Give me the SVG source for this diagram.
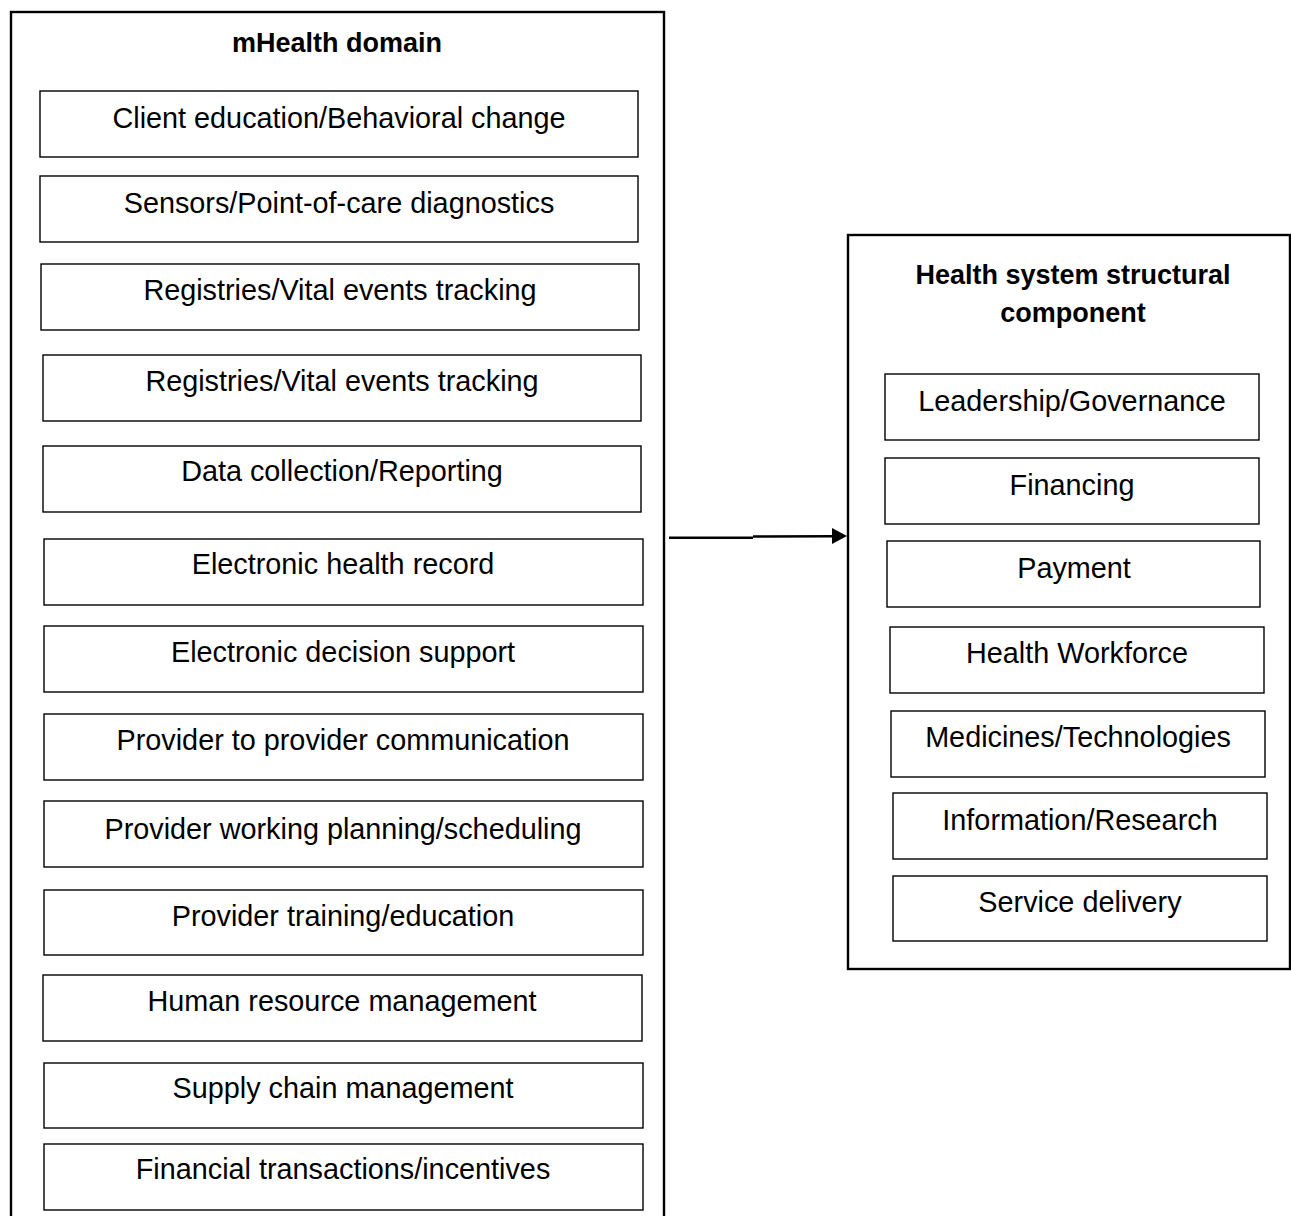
<svg xmlns="http://www.w3.org/2000/svg" width="1291" height="1216" viewBox="0 0 1291 1216">
<style>
.outer{fill:#fff;stroke:#000;stroke-width:2.4}
.box{fill:#fff;stroke:#000;stroke-width:1.4}
.t{font-family:"Liberation Sans",Arial,sans-serif;font-size:28.8px;fill:#000;text-anchor:middle}
.h{font-family:"Liberation Sans",Arial,sans-serif;font-size:27px;font-weight:bold;fill:#000;text-anchor:middle}
.c{fill:none;stroke:#000;stroke-width:2.4}
</style>
<rect width="1291" height="1216" fill="#fff"/>
<g id="mhealth-domain">
<rect class="outer" x="11" y="12" width="653" height="1220"/>
<text class="h" x="337" y="52">mHealth domain</text>
</g>
<g id="n1"><rect class="box" x="40" y="91" width="598" height="66"/><text class="t" x="339" y="128">Client education/Behavioral change</text></g>
<g id="n2"><rect class="box" x="40" y="176" width="598" height="66"/><text class="t" x="339" y="213">Sensors/Point-of-care diagnostics</text></g>
<g id="n3"><rect class="box" x="41" y="264" width="598" height="66"/><text class="t" x="340" y="300">Registries/Vital events tracking</text></g>
<g id="n4"><rect class="box" x="43" y="355" width="598" height="66"/><text class="t" x="342" y="391">Registries/Vital events tracking</text></g>
<g id="n5"><rect class="box" x="43" y="446" width="598" height="66"/><text class="t" x="342" y="481">Data collection/Reporting</text></g>
<g id="n6"><rect class="box" x="44" y="539" width="599" height="66"/><text class="t" x="343" y="574">Electronic health record</text></g>
<g id="n7"><rect class="box" x="44" y="626" width="599" height="66"/><text class="t" x="343" y="662">Electronic decision support</text></g>
<g id="n8"><rect class="box" x="44" y="714" width="599" height="66"/><text class="t" x="343" y="750">Provider to provider communication</text></g>
<g id="n9"><rect class="box" x="44" y="801" width="599" height="66"/><text class="t" x="343" y="839">Provider working planning/scheduling</text></g>
<g id="n10"><rect class="box" x="44" y="890" width="599" height="65"/><text class="t" x="343" y="926">Provider training/education</text></g>
<g id="n11"><rect class="box" x="43" y="975" width="599" height="66"/><text class="t" x="342" y="1011">Human resource management</text></g>
<g id="n12"><rect class="box" x="44" y="1063" width="599" height="65"/><text class="t" x="343" y="1098">Supply chain management</text></g>
<g id="n13"><rect class="box" x="44" y="1144" width="599" height="66"/><text class="t" x="343" y="1179">Financial transactions/incentives</text></g>

<g id="health-system">
<rect class="outer" x="848" y="235" width="442" height="734"/>
<text class="h" x="1073" y="284">Health system structural</text>
<text class="h" x="1073" y="322">component</text>
</g>
<g id="r1"><rect class="box" x="885" y="374" width="374" height="66"/><text class="t" x="1072" y="411">Leadership/Governance</text></g>
<g id="r2"><rect class="box" x="885" y="458" width="374" height="66"/><text class="t" x="1072" y="495">Financing</text></g>
<g id="r3"><rect class="box" x="887" y="541" width="373" height="66"/><text class="t" x="1074" y="578">Payment</text></g>
<g id="r4"><rect class="box" x="890" y="627" width="374" height="66"/><text class="t" x="1077" y="663">Health Workforce</text></g>
<g id="r5"><rect class="box" x="891" y="711" width="374" height="66"/><text class="t" x="1078" y="747">Medicines/Technologies</text></g>
<g id="r6"><rect class="box" x="893" y="793" width="374" height="66"/><text class="t" x="1080" y="830">Information/Research</text></g>
<g id="r7"><rect class="box" x="893" y="876" width="374" height="65"/><text class="t" x="1080" y="912">Service delivery</text></g>

<g id="connectors">
<path class="c" d="M669,537.7 L753,537.7 M753,536.5 L834,536.3"/>
<polygon points="832,528 847,536 832,544" fill="#000"/>
</g>
</svg>
